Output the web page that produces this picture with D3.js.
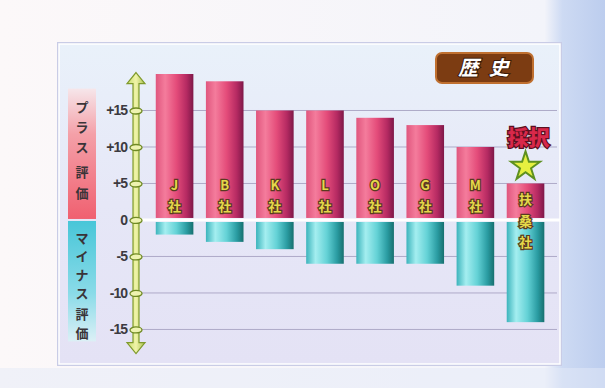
<!DOCTYPE html>
<html><head><meta charset="utf-8">
<script src="https://cdn.jsdelivr.net/npm/d3@7"></script>
<style>
html,body{margin:0;padding:0;width:605px;height:388px;overflow:hidden;}
svg{display:block;}
</style></head>
<body>
<svg id="chart" width="605" height="388"></svg>
<script>
// ---- data ----
const companies = ["J社","B社","K社","L社","O社","G社","M社","扶桑社"];
const plusValues = [20,19,15,15,14,13,10,5];
const minusValues = [-2,-3,-4,-6,-6,-6,-9,-14];
const tickValues = [15,10,5,0,-5,-10,-15];
const tickLabels = ["+15","+10","+5","0","-5","-10","-15"];
const plusLabel = "プラス評価";
const minusLabel = "マイナス評価";
const titleText = "歴 史";
const highlightText = "採択";
const highlightCompany = "扶桑社";

const svg = d3.select("#chart");
const defs = svg.append("defs");

// gradients
function lin(id, x2, y2, stops){
  const g = defs.append("linearGradient").attr("id", id)
    .attr("x1",0).attr("y1",0).attr("x2",x2).attr("y2",y2);
  stops.forEach(s => g.append("stop").attr("offset", s[0]).attr("stop-color", s[1]));
}
lin("bg",1,0,[[0,"#fcf8f9"],[0.9,"#f3f4fa"],[0.93,"#cddaf3"],[1,"#bccdee"]]);
lin("panel",0,1,[[0,"#e9f1fa"],[0.5,"#e6e7f7"],[1,"#e4e2f5"]]);
lin("pinkBar",1,0,[[0,"#e0567e"],[0.25,"#f47c9c"],[0.55,"#e44c7a"],[0.82,"#b52a62"],[1,"#7e1848"]]);
lin("cyanBar",1,0,[[0,"#3cb4bc"],[0.25,"#a4eef0"],[0.55,"#64d2d6"],[0.82,"#2a9ca2"],[1,"#17706f"]]);
lin("pinkBand",0,1,[[0,"#f6e6ea"],[0.35,"#f4a0a8"],[1,"#f06070"]]);
lin("cyanBand",0,1,[[0,"#48c6d8"],[0.6,"#8adbe8"],[1,"#dcf0f6"]]);
lin("axisFill",1,0,[[0,"#c8dc70"],[0.5,"#f0f4a8"],[1,"#a8c050"]]);

// background
svg.append("rect").attr("width",605).attr("height",388).attr("fill","url(#bg)");
svg.append("rect").attr("x",0).attr("y",368).attr("width",605).attr("height",20).attr("fill","#e4eaf7").attr("opacity",0.5);

// panel
svg.append("rect").attr("x",57).attr("y",42).attr("width",505).attr("height",324)
  .attr("fill","#c9cce6");
svg.append("rect").attr("x",59).attr("y",44).attr("width",501).attr("height",320)
  .attr("fill","url(#panel)").attr("stroke","#ffffff").attr("stroke-width",1.5);

// scales
const y = d3.scaleLinear().domain([-18.5, 20]).range([355, 74]);
const x = d3.scaleBand().domain(companies).range([149.5, 550.6]).paddingInner(0.25).paddingOuter(0.125);
const y0 = y(0);

// left bands
svg.append("rect").attr("x",68).attr("y",y(18)).attr("width",28).attr("height",y0 - y(18) - 1)
  .attr("fill","url(#pinkBand)");
svg.append("rect").attr("x",68).attr("y",y0 + 1).attr("width",28).attr("height",y(-16.5) - y0)
  .attr("fill","url(#cyanBand)");

const plusPos = [107,127,147,172,193];
const minusPos = [238,256.5,275,293.5,314,333];
function vertLabel(str, pos){
  Array.from(str).forEach((ch,i)=>{
    svg.append("text").attr("x",82).attr("y",pos[i]).attr("dy","0.36em")
      .attr("text-anchor","middle").attr("font-family","'Noto Sans CJK JP'")
      .attr("font-weight","bold").attr("font-size",13).attr("fill","#3a3438").text(ch);
  });
}
vertLabel(plusLabel, plusPos);
vertLabel(minusLabel, minusPos);

// gridlines
svg.append("g").selectAll("line").data(tickValues.filter(v=>v!==0)).join("line")
  .attr("x1",140).attr("x2",557).attr("y1",d=>y(d)).attr("y2",d=>y(d))
  .attr("stroke","#aeaac8").attr("stroke-width",1);
svg.append("line").attr("x1",140).attr("x2",560).attr("y1",y0).attr("y2",y0)
  .attr("stroke","#ffffff").attr("stroke-width",3);

// axis arrow (decoration)
const ax = 136;
const topTip = y(20.2), botTip = y(-18.3);
const arrow = `M${ax},${topTip} L${ax+9},${topTip+11} L${ax+3},${topTip+11} L${ax+3},${botTip-11} L${ax+9},${botTip-11} L${ax},${botTip} L${ax-9},${botTip-11} L${ax-3},${botTip-11} L${ax-3},${topTip+11} L${ax-9},${topTip+11} Z`;
svg.append("path").attr("d",arrow).attr("fill","url(#axisFill)").attr("stroke","#7f9a2c").attr("stroke-width",1.2);

// axis with labels
const axis = d3.axisLeft(y).tickValues(tickValues).tickSize(0).tickPadding(9)
  .tickFormat((d,i)=>tickLabels[i]);
const axG = svg.append("g").attr("transform",`translate(${ax},0)`).call(axis);
axG.select(".domain").remove();
axG.selectAll(".tick text").attr("font-family","'Liberation Sans', Arial")
  .attr("font-weight","bold").attr("font-size",14).attr("fill","#3c3a40")
  .attr("letter-spacing","-1");
axG.selectAll(".tick").append("ellipse").attr("cx",0).attr("cy",0).attr("rx",6).attr("ry",3)
  .attr("fill","#eef3b0").attr("stroke","#6f8a24").attr("stroke-width",1.3);

// bars
const bars = svg.append("g");
bars.selectAll("rect.plus").data(companies).join("rect").attr("class","plus")
  .attr("x",d=>x(d)).attr("width",x.bandwidth())
  .attr("y",(d,i)=>y(plusValues[i])).attr("height",(d,i)=>y0 - 2 - y(plusValues[i]))
  .attr("fill","url(#pinkBar)");
bars.selectAll("rect.minus").data(companies).join("rect").attr("class","minus")
  .attr("x",d=>x(d)).attr("width",x.bandwidth())
  .attr("y",y0 + 2).attr("height",(d,i)=>y(minusValues[i]) - y0 - 2)
  .attr("fill","url(#cyanBar)");

// bar labels
companies.forEach((c,i)=>{
  const chars = Array.from(c.replace("社","")).concat(["社"]);
  const n = chars.length;
  const start = Math.max(y(plusValues[i]) + 16, y0 - 13 - (n-1)*22);
  chars.forEach((ch,k)=>{
    svg.append("text").attr("x",x(c)+x.bandwidth()/2).attr("y",start + k*21.5).attr("dy","0.36em")
      .attr("text-anchor","middle").attr("font-family","'Noto Sans CJK JP'")
      .attr("font-weight","bold").attr("font-size",13)
      .attr("fill","#e4d84a").attr("stroke","#5a3a20").attr("stroke-width",2.4)
      .attr("paint-order","stroke").text(ch);
  });
});

// highlight: 採択 + star
const hi = companies.indexOf(highlightCompany);
const hx = x(highlightCompany) + x.bandwidth()/2;
const starY = y(plusValues[hi]) - 18;
const star = d3.symbol().type(d3.symbolStar).size(260);
svg.append("path").attr("d",star()).attr("transform",`translate(${hx},${starY+1})`)
  .attr("fill","#e6f040").attr("stroke","#5e9020").attr("stroke-width",2);
svg.append("text").attr("x",hx+3).attr("y",starY - 28).attr("dy","0.36em")
  .attr("text-anchor","middle").attr("font-family","'Noto Sans CJK JP'")
  .attr("font-weight","900").attr("font-size",21)
  .attr("fill","#d8284a").attr("stroke","#5a1020").attr("stroke-width",2.5)
  .attr("paint-order","stroke").text(highlightText);

// title box
svg.append("rect").attr("x",436).attr("y",53).attr("width",97).attr("height",30).attr("rx",6)
  .attr("fill","#7c3c12").attr("stroke","#c07030").attr("stroke-width",2);
svg.append("text").attr("x",485).attr("y",68).attr("dy","0.36em")
  .attr("text-anchor","middle").attr("font-family","'Noto Sans CJK JP'")
  .attr("font-weight","bold").attr("font-size",20).attr("font-style","italic")
  .attr("letter-spacing","3")
  .attr("fill","#ffffff").attr("stroke","#3a1a08").attr("stroke-width",2)
  .attr("paint-order","stroke").text(titleText);
</script>
</body></html>
